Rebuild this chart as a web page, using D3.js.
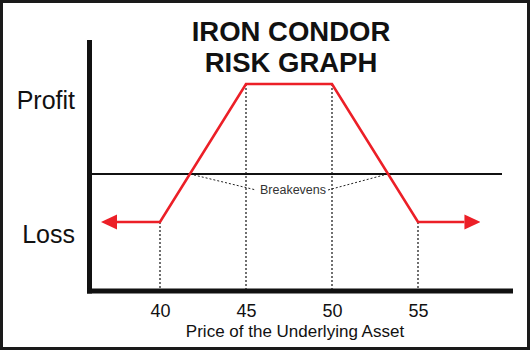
<!DOCTYPE html>
<html>
<head>
<meta charset="utf-8">
<script src="https://cdn.jsdelivr.net/npm/d3@7/dist/d3.min.js"></script>
<style>
  html, body { margin: 0; padding: 0; background: #fff; }
  svg { display: block; font-family: "Liberation Sans", Arial, Helvetica, sans-serif; }
</style>
</head>
<body>
<script>
// Iron condor: long 40 put, short 45 put, short 50 call, long 55 call
const strikes = [40, 45, 50, 55];
const strikeLabels = ["40", "45", "50", "55"];
const netCredit = 3.26;                 // maximum profit
const maxLoss = -(5 - netCredit);       // wing width minus credit
const payoffPrices = [37.5, 40, 45, 50, 55, 57.7];
const payoffValues = [maxLoss, maxLoss, netCredit, netCredit, maxLoss, maxLoss];
const breakevens = [strikes[1] - netCredit, strikes[2] + netCredit];
const titleLines = ["IRON CONDOR", "RISK GRAPH"];
const levelLabels = ["Profit", "Loss"];

const W = 530, H = 350;
const frame = { left: 89.5, right: 513, top: 40, bottom: 291 };

const svg = d3.select("body").append("svg")
  .attr("width", W).attr("height", H);

// outer border
svg.append("rect")
  .attr("x", 1.5).attr("y", 1.5)
  .attr("width", W - 3).attr("height", H - 3)
  .attr("fill", "#fff").attr("stroke", "#1a1a1a").attr("stroke-width", 3);

const x = d3.scaleLinear().domain([40, 55]).range([160, 418]);
const y = d3.scaleLinear().domain([maxLoss, netCredit]).range([222, 84]);

const red = "#ec1f27";

// arrowhead marker
const defs = svg.append("defs");
defs.append("marker")
  .attr("id", "arrow")
  .attr("viewBox", "0 -8 16 16")
  .attr("refX", 0).attr("refY", 0)
  .attr("markerWidth", 16).attr("markerHeight", 16)
  .attr("markerUnits", "userSpaceOnUse")
  .attr("orient", "auto-start-reverse")
  .append("path")
  .attr("d", "M0,-7.5L16,0L0,7.5Z")
  .attr("fill", red);

// title
svg.append("g").selectAll("text").data(titleLines).join("text")
  .attr("x", 291)
  .attr("y", (d, i) => 41 + i * 30.5)
  .attr("text-anchor", "middle")
  .attr("font-size", 27.5)
  .attr("font-weight", "bold")
  .attr("fill", "#111")
  .text(d => d);

// dotted drop lines from each strike vertex to the price axis
const vertexVals = [maxLoss, netCredit, netCredit, maxLoss];
svg.append("g").selectAll("line").data(strikes).join("line")
  .attr("x1", d => x(d)).attr("x2", d => x(d))
  .attr("y1", (d, i) => y(vertexVals[i]))
  .attr("y2", frame.bottom - 2)
  .attr("stroke", "#111")
  .attr("stroke-width", 1.2)
  .attr("stroke-dasharray", "2,2");

// zero (breakeven) line
svg.append("line")
  .attr("x1", frame.left).attr("x2", 502)
  .attr("y1", y(0)).attr("y2", y(0))
  .attr("stroke", "#111").attr("stroke-width", 2);

// breakeven callout
const labelX = (x(breakevens[0]) + x(breakevens[1])) / 2 + 4;
const labelY = y(0) + 20;
svg.append("text")
  .attr("x", labelX).attr("y", labelY)
  .attr("text-anchor", "middle")
  .attr("font-size", 12.5)
  .attr("fill", "#333")
  .text("Breakevens");

const leaders = [
  [[x(breakevens[0]) + 4, y(0) + 1], [labelX - 37, labelY - 4]],
  [[x(breakevens[1]) - 4, y(0) + 1], [labelX + 35, labelY - 4]]
];
svg.append("g").selectAll("path").data(leaders).join("path")
  .attr("d", d => d3.line()(d))
  .attr("fill", "none")
  .attr("stroke", "#222")
  .attr("stroke-width", 1)
  .attr("stroke-dasharray", "2,2");

// payoff line
const payoff = payoffPrices.map((p, i) => [p, payoffValues[i]]);
svg.append("path")
  .datum(payoff)
  .attr("d", d3.line().x(d => x(d[0])).y(d => y(d[1])))
  .attr("fill", "none")
  .attr("stroke", red)
  .attr("stroke-width", 2.6)
  .attr("stroke-linejoin", "miter")
  .attr("marker-start", "url(#arrow)")
  .attr("marker-end", "url(#arrow)");

// axes frame
svg.append("line")
  .attr("x1", frame.left).attr("x2", frame.left)
  .attr("y1", frame.top).attr("y2", frame.bottom + 2.5)
  .attr("stroke", "#111").attr("stroke-width", 5);
svg.append("line")
  .attr("x1", frame.left - 2.5).attr("x2", frame.right)
  .attr("y1", frame.bottom).attr("y2", frame.bottom)
  .attr("stroke", "#111").attr("stroke-width", 5);

// price axis tick labels
const xAxis = d3.axisBottom(x)
  .tickValues(strikes)
  .tickFormat((d, i) => strikeLabels[i])
  .tickSize(0)
  .tickPadding(13);
const gx = svg.append("g")
  .attr("transform", `translate(0,${frame.bottom})`)
  .call(xAxis);
gx.select(".domain").remove();
gx.selectAll("text")
  .attr("font-size", 18)
  .attr("font-family", "'Liberation Sans', Arial, sans-serif")
  .attr("fill", "#111");

svg.append("text")
  .attr("x", 295).attr("y", 337)
  .attr("text-anchor", "middle")
  .attr("font-size", 17)
  .attr("fill", "#111")
  .text("Price of the Underlying Asset");

// profit / loss labels
const levelVals = [netCredit, maxLoss];
const levelOffsets = [25, 21];
svg.append("g").selectAll("text").data(levelLabels).join("text")
  .attr("x", 75)
  .attr("y", (d, i) => y(levelVals[i]) + levelOffsets[i])
  .attr("text-anchor", "end")
  .attr("font-size", 25)
  .attr("fill", "#111")
  .text(d => d);
</script>
</body>
</html>
